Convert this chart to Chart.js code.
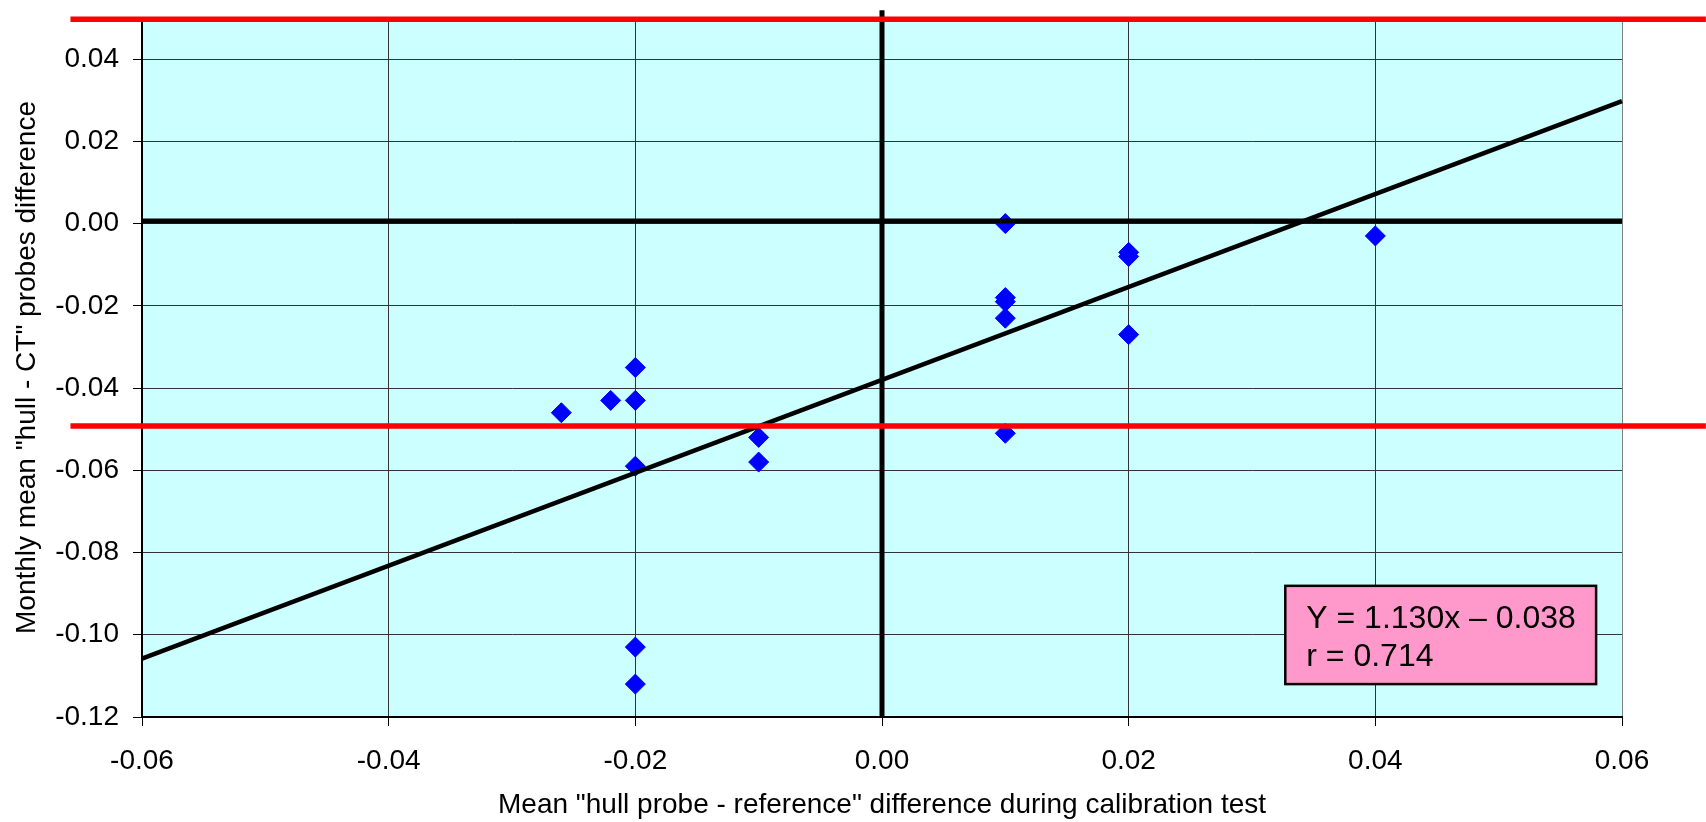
<!DOCTYPE html>
<html><head><meta charset="utf-8">
<script src="https://cdn.jsdelivr.net/npm/chart.js@4/dist/chart.umd.min.js"></script>
<style>html,body{margin:0;padding:0;background:#fff;overflow:hidden}#wrap{width:1706px;height:822px}</style>
</head><body><div id="wrap"><canvas id="c" width="1706" height="822"></canvas></div>
<script>
// ---- data ----
const pointX = [0.01, 0.02, 0.02, 0.04, 0.01, 0.01, 0.01, 0.02, 0.01, -0.02, -0.026, -0.022, -0.02, -0.02, -0.01, -0.01, -0.02, -0.02];
const pointY = [0.000, -0.007, -0.008, -0.003, -0.018, -0.019, -0.023, -0.027, -0.051, -0.035, -0.046, -0.043, -0.043, -0.059, -0.052, -0.058, -0.103, -0.112];
const trendX = [-0.06, 0.06];
const trendY = [-0.1058, 0.0298];
const limitX = [-0.0658, 0.0668];
const upperLimitY = [0.0497, 0.0497];
const lowerLimitY = [-0.0492, -0.0492];
const zeroLineX = [-0.06, 0.06];
const zeroLineY = [0.0006, 0.0006];
const vertLineX = [0, 0];
const vertLineY = [-0.12, 0.0519];
const xTicks = [-0.06, -0.04, -0.02, 0, 0.02, 0.04, 0.06];
const yTicks = [-0.12, -0.10, -0.08, -0.06, -0.04, -0.02, 0, 0.02, 0.04];
const xTitle = 'Mean "hull probe - reference" difference during calibration test';
const yTitle = 'Monthly mean "hull - CT" probes difference';
const equationLines = ['Y = 1.130x \u2013 0.038', 'r = 0.714'];
const boxX = [0.0327, 0.0579];
const boxY = [-0.0881, -0.1120];

const FONT = "'Liberation Sans', Arial, sans-serif";
const pts = (xs, ys) => xs.map((x, i) => ({x, y: ys[i]}));

const bgPlugin = {
  id: 'bg',
  beforeDraw(chart) {
    const a = chart.chartArea, c = chart.ctx;
    c.save(); c.fillStyle = '#CCFFFF';
    c.fillRect(a.left, a.top, a.right - a.left, a.bottom - a.top);
    c.restore();
  }
};
const boxPlugin = {
  id: 'eqbox',
  afterDatasetsDraw(chart) {
    const c = chart.ctx, xs = chart.scales.x, ys = chart.scales.y;
    const l = xs.getPixelForValue(boxX[0]), r = xs.getPixelForValue(boxX[1]);
    const t = ys.getPixelForValue(boxY[0]), b = ys.getPixelForValue(boxY[1]);
    c.save();
    c.fillStyle = '#FF99CC'; c.fillRect(l, t, r - l, b - t);
    c.strokeStyle = '#000'; c.lineWidth = 2.5; c.strokeRect(l, t, r - l, b - t);
    c.fillStyle = '#000'; c.font = '32px ' + FONT; c.textBaseline = 'alphabetic'; c.textAlign = 'left';
    c.fillText(equationLines[0], l + 21, t + 42.6);
    c.fillText(equationLines[1], l + 21, t + 80.3);
    c.restore();
  }
};

const lineDs = (xs, ys, color, w) => ({
  data: pts(xs, ys), showLine: true, borderColor: color, borderWidth: w,
  pointRadius: 0, clip: false, fill: false
});

new Chart(document.getElementById('c'), {
  type: 'scatter',
  data: {
    datasets: [
      lineDs(limitX, upperLimitY, '#FF0000', 5.5),
      lineDs(limitX, lowerLimitY, '#FF0000', 5.5),
      lineDs(trendX, trendY, '#000000', 4.5),
      lineDs(zeroLineX, zeroLineY, '#000000', 5),
      lineDs(vertLineX, vertLineY, '#000000', 5),
      {
        data: pts(pointX, pointY), pointStyle: 'rectRot', pointRadius: 10,
        backgroundColor: '#0000FF', borderColor: '#0000FF', borderWidth: 1, showLine: false
      }
    ]
  },
  options: {
    responsive: false, animation: false, devicePixelRatio: 1,
    layout: {padding: {left: 0, right: 84, top: 18, bottom: 0}},
    plugins: {legend: {display: false}, tooltip: {enabled: false}},
    scales: {
      x: {
        type: 'linear', min: -0.06, max: 0.06,
        afterBuildTicks: s => { s.ticks = xTicks.map(v => ({value: v})); },
        afterFit: s => { s.height = 105; s.paddingLeft = 0; s.paddingRight = 0; },
        ticks: {color: '#000', font: {family: FONT, size: 28}, padding: 18,
          callback: v => Number(v).toFixed(2)},
        grid: {color: c => (c.tick && Math.abs(c.tick.value - 0.06) < 1e-9) ? '#808080' : '#333333',
          lineWidth: 1, tickLength: 9, tickColor: '#000'},
        border: {display: true, color: '#000', width: 2},
        title: {display: true, text: xTitle, color: '#000',
          font: {family: FONT, size: 28}, padding: {top: 0, bottom: 0}}
      },
      y: {
        type: 'linear', min: -0.12, max: 0.05,
        afterBuildTicks: s => { s.ticks = yTicks.map(v => ({value: v})); },
        afterFit: s => { s.width = 142; s.paddingTop = 0; s.paddingBottom = 0; },
        ticks: {color: '#000', font: {family: FONT, size: 28}, padding: 14,
          callback: v => Number(v).toFixed(2)},
        grid: {color: '#333333', lineWidth: 1, tickLength: 9, tickColor: '#000'},
        border: {display: true, color: '#000', width: 2},
        title: {display: true, text: yTitle, color: '#000',
          font: {family: FONT, size: 28}, padding: {top: 10.5, bottom: 0}}
      }
    }
  },
  plugins: [bgPlugin, boxPlugin]
});
</script></body></html>
